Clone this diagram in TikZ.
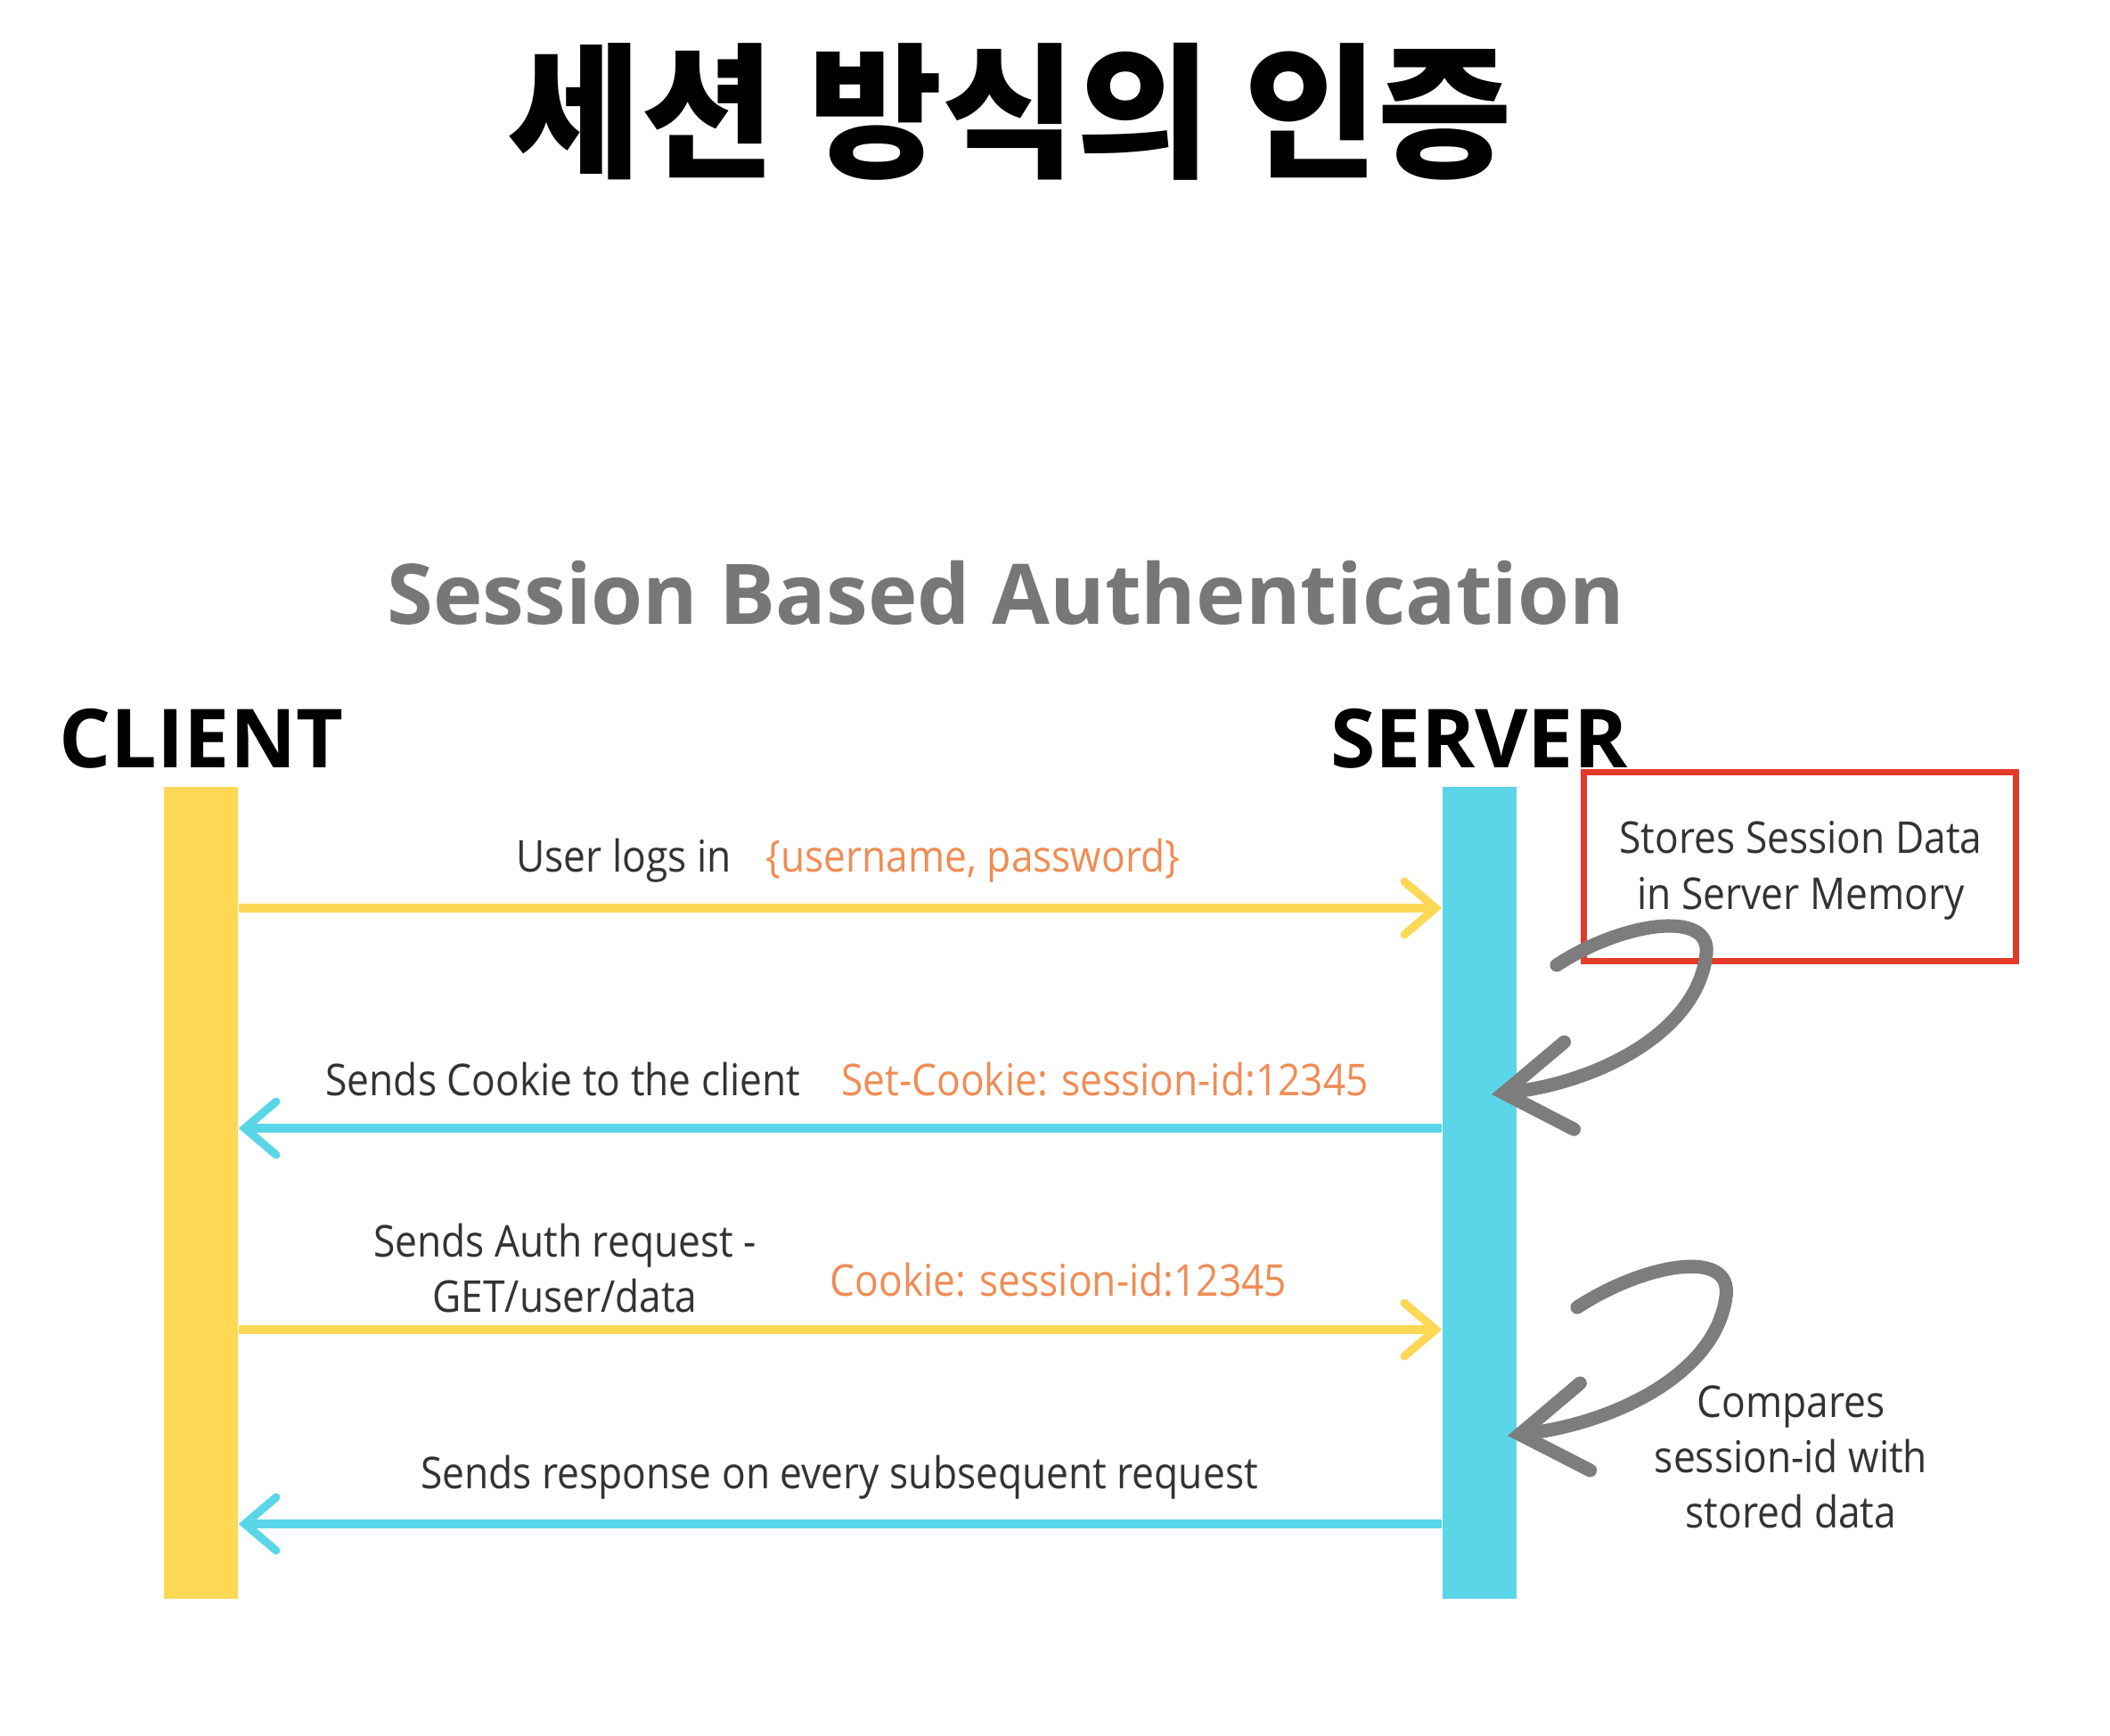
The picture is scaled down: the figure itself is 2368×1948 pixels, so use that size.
\documentclass[tikz,border=0pt]{standalone}
\usepackage{fontspec}
\usetikzlibrary{arrows.meta}
\newfontfamily\krfont{Noto Sans CJK KR}
\newfontfamily\osans{Open Sans}[FakeStretch=0.9]
\newfontfamily\oshead{Open Sans}
\definecolor{ybar}{HTML}{FDD855}
\definecolor{cbar}{HTML}{5AD6E8}
\definecolor{orng}{HTML}{EF8D55}
\definecolor{txt}{HTML}{333333}
\definecolor{subc}{HTML}{777777}
\definecolor{grayarr}{HTML}{7D7D7D}
\definecolor{redbox}{HTML}{E43A2A}
\tikzset{
  lbl/.style={inner sep=0pt, text=txt, font=\osans\fontsize{14}{18}\selectfont},
  olbl/.style={inner sep=0pt, text=orng, font=\osans\fontsize{14}{18}\selectfont},
  head/.style={inner sep=0pt, text=black, font=\oshead\bfseries\fontsize{26}{30}\selectfont},
  lifeline/.style={inner sep=0pt, draw=none, minimum width=0.83cm, minimum height=9.11cm},
  msg/.style={line width=2.6pt, -{Straight Barb[length=10pt,width=17pt,line cap=round]}},
  curl/.style={draw=grayarr, line width=4.3pt, line cap=round, -{Straight Barb[length=21pt,width=28pt,line cap=round]}}
}
\begin{document}
\begin{tikzpicture}[x=0.01cm,y=-0.01cm]
\path[use as bounding box, fill=white] (0,0) rectangle (2368,1948);

\node[inner sep=0pt, font=\krfont\bfseries\fontsize{46.5}{50}\selectfont] (title) at (1133,125) {세션 방식의 인증};
\node[inner sep=0pt, text=subc, font=\oshead\bfseries\fontsize{26.7}{30}\selectfont] (subtitle) at (1129,665) {Session Based Authentication};

\node[head] (clienthead) at (226,829) {CLIENT};
\node[head] (serverhead) at (1660,829) {SERVER};

\node[lifeline, fill=ybar] (client) at (225.5,1338.5) {};
\node[lifeline, fill=cbar] (server) at (1660.5,1338.5) {};

% messages
\draw[msg, draw=ybar] (client.east |- 0,1019) -- (server.west |- 0,1019);
\node[lbl] (m1a) at (700,966) {User logs in};
\node[olbl] (m1b) at (1092,966) {\{username, password\}};

\draw[msg, draw=cbar] (server.west |- 0,1266) -- (client.east |- 0,1266);
\node[lbl] (m2a) at (632,1211) {Sends Cookie to the client};
\node[olbl] (m2b) at (1240,1211) {Set-Cookie: session-id:12345};

\draw[msg, draw=ybar] (client.east |- 0,1492) -- (server.west |- 0,1492);
\node[lbl, align=center, font=\osans\fontsize{14}{17.6}\selectfont] (m3a) at (634,1423) {Sends Auth request -\\GET/user/data};
\node[olbl] (m3b) at (1188,1436) {Cookie: session-id:12345};

\draw[msg, draw=cbar] (server.west |- 0,1710) -- (client.east |- 0,1710);
\node[lbl] (m4a) at (942,1658) {Sends response on every subsequent request};

% note box
\node[draw=redbox, line width=2pt, minimum width=4.84cm, minimum height=2.11cm, inner sep=0pt] (box) at (2020,972.5) {};
\node[lbl, align=center, font=\osans\fontsize{14}{17.9}\selectfont] (boxtxt) at (2021,977) {Stores Session Data\\in Server Memory};

\node[lbl, align=center, font=\osans\fontsize{14}{17.6}\selectfont] (cmp) at (2010,1635) {Compares\\session-id with\\stored data};

% curly arrows
\coordinate (c1s) at (1747,1083);
\coordinate (c1e) at (1674,1228);
\draw[curl] (c1s) .. controls (1820,1035) and (1920,1020) .. (1915,1070) .. controls (1905,1160) and (1790,1215) .. (c1e);
\coordinate (c2s) at (1770,1467);
\coordinate (c2e) at (1692,1611);
\draw[curl] (c2s) .. controls (1845,1418) and (1945,1400) .. (1937,1455) .. controls (1925,1545) and (1805,1598) .. (c2e);
\end{tikzpicture}
\end{document}
